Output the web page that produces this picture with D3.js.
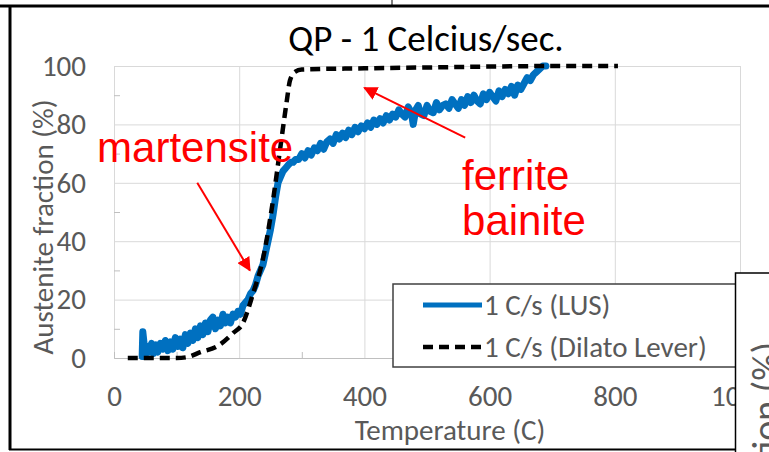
<!DOCTYPE html>
<html>
<head>
<meta charset="utf-8">
<script src="https://cdn.jsdelivr.net/npm/d3@7"></script>
<style>
  body { margin: 0; background: #fff; }
  svg { display: block; }
  text { font-family: Carlito, Lato, "Open Sans", sans-serif; }
</style>
</head>
<body>
<div class="chart"></div>
<script>
// chart values
var chartTitle = "QP - 1 Celcius/sec.";
var xTicks = [0, 200, 400, 600, 800, 1000];
var yTicks = [0, 20, 40, 60, 80, 100];
var xMinor = [100, 300, 500, 700, 900];
var yMinor = [10, 30, 50, 70, 90];
var seriesNames = ["1 C/s (LUS)", "1 C/s (Dilato Lever)"];

// LUS measurement (temperature C, austenite %)
var lusTemp = [45, 46, 48, 50, 53, 56, 60, 63, 67, 70, 74, 78, 82, 86, 90, 94, 98, 102, 106, 110,
  114, 118, 122, 126, 130, 134, 138, 142, 146, 150, 154, 158, 162, 166, 170, 174, 178, 182, 186, 190,
  194, 198, 202, 206, 210, 214, 218, 222, 226, 230, 234, 238, 242, 246, 250, 254, 258, 262, 266, 270,
  274, 278, 282, 286, 290, 295, 300, 305, 310, 315, 320, 325, 330, 335, 340, 345, 350, 355, 360, 365,
  370, 375, 380, 385, 390, 395, 400, 405, 410, 415, 420, 425, 430, 435, 440, 445, 450, 455, 460, 465,
  470, 475, 478, 482, 486, 490, 495, 500, 505, 510, 515, 520, 525, 530, 535, 540, 545, 550, 555, 560,
  565, 570, 575, 580, 585, 590, 595, 600, 605, 610, 615, 620, 625, 630, 635, 640, 645, 650, 655, 660,
  665, 670, 675, 680, 685, 690];
var lusValue = [0.5, 9, 5, 1, 4, 2, 5, 1.5, 4.5, 2, 5, 3, 6, 2.5, 5.5, 3, 7, 4, 6.5, 3.5,
  8, 5, 8.5, 6, 10, 7, 11, 8, 12, 9, 13, 14, 10, 13, 11, 15, 12, 14, 12, 15,
  14, 16, 15, 18, 19, 20, 22, 23, 25, 28, 30, 32, 36, 40, 44, 49, 55, 60, 62, 64,
  65, 66, 67, 67, 68, 68, 70, 68.5, 71, 69.5, 72, 71, 73.5, 71.5, 74, 75, 73.5, 76.5, 75, 77,
  75.5, 78, 76.5, 79, 77.5, 79.5, 78.5, 80.5, 79, 81.5, 80, 82, 80.5, 83, 81.5, 83.5, 82.5, 85, 83.5, 82.5,
  86, 84, 80, 85, 86.5, 83.5, 83, 86.5, 84.5, 84, 87.5, 85, 86.5, 87, 85.5, 88.5, 87, 85.5, 88.5, 86.5,
  89.5, 87.5, 90, 88, 87, 90.5, 88.5, 91, 89.5, 88, 91.5, 89.5, 92, 90.5, 93, 90, 93.5, 92, 94, 96,
  95, 97, 98, 99, 100, 100];

// dilatometer lever rule
var dilTemp = [22, 60, 100, 117, 138, 165, 190, 206, 222, 238, 254, 265, 276, 281, 289, 300, 400, 500, 600, 700, 805];
var dilValue = [0, 0, 0, 0.3, 2, 4, 8.5, 12, 22, 34, 54, 71, 88, 95, 98, 98.8, 99.2, 99.5, 99.8, 100, 100];

// annotations: label lines and arrows in data units
var noteLabels = ["martensite", "ferrite", "bainite"];
var noteX = [-27, 556, 556];
var noteY = [67, 57.5, 42];
var arrowFrom = [[133, 60], [561, 75.5]];
var arrowTo = [[217, 30], [400, 92.5]];

var svgWidth = 769;
var svgHeight = 452;
var margin = { top: 66, right: 29, bottom: 94, left: 114 };
var width = svgWidth - margin.left - margin.right;
var height = svgHeight - margin.top - margin.bottom;

var svg = d3.select(".chart")
    .append("svg")
    .attr("width", svgWidth)
    .attr("height", svgHeight);

var defs = svg.append("defs");
defs.append("marker")
    .attr("id", "head")
    .attr("viewBox", "0 0 10 10")
    .attr("refX", 9)
    .attr("refY", 5)
    .attr("markerWidth", 7)
    .attr("markerHeight", 7)
    .attr("markerUnits", "strokeWidth")
    .attr("orient", "auto")
    .append("path")
    .attr("d", "M0,0 L10,5 L0,10 z")
    .attr("fill", "#ff0000");

var chartGroup = svg.append("g")
    .attr("transform", `translate(${margin.left}, ${margin.top})`);

var x = d3.scaleLinear().domain([0, 1000]).range([0, width]);
var y = d3.scaleLinear().domain([0, 100]).range([height, 0]);

// gridlines
chartGroup.append("g")
    .call(d3.axisLeft(y).tickValues(yTicks).tickSize(-width).tickFormat(""))
    .call(g => g.select(".domain").remove())
    .selectAll("line").attr("stroke", "#d9d9d9");
chartGroup.append("g")
    .attr("transform", `translate(0, ${height})`)
    .call(d3.axisBottom(x).tickValues(xTicks).tickSize(-height).tickFormat(""))
    .call(g => g.select(".domain").remove())
    .selectAll("line").attr("stroke", "#d9d9d9");

// minor ticks
chartGroup.append("g")
    .call(d3.axisLeft(y).tickValues(yMinor).tickSize(-6).tickFormat(""))
    .call(g => g.select(".domain").attr("stroke", "#d9d9d9"))
    .selectAll("line").attr("stroke", "#bfbfbf");
chartGroup.append("g")
    .attr("transform", `translate(0, ${height})`)
    .call(d3.axisBottom(x).tickValues(xMinor).tickSize(-6).tickFormat(""))
    .call(g => g.select(".domain").attr("stroke", "#bfbfbf"))
    .selectAll("line").attr("stroke", "#bfbfbf");

// tick labels
var yAxis = chartGroup.append("g")
    .call(d3.axisLeft(y).tickValues(yTicks).tickSize(0).tickPadding(28).tickFormat(d3.format("d")));
yAxis.select(".domain").remove();
yAxis.selectAll("text")
    .attr("fill", "#595959")
    .style("font-size", "29px");

var xAxis = chartGroup.append("g")
    .attr("transform", `translate(0, ${height})`)
    .call(d3.axisBottom(x).tickValues(xTicks).tickSize(0).tickPadding(27).tickFormat(d3.format("d")));
xAxis.select(".domain").remove();
xAxis.selectAll("text")
    .attr("fill", "#595959")
    .style("font-size", "29px");

// series
var lusData = lusTemp.map((t, i) => ({ t: t, v: lusValue[i] }));
var dilData = dilTemp.map((t, i) => ({ t: t, v: dilValue[i] }));

var line = d3.line()
    .x(d => x(d.t))
    .y(d => y(d.v));

chartGroup.append("path")
    .datum(lusData)
    .attr("d", line)
    .attr("fill", "none")
    .attr("stroke", "#0070c0")
    .attr("stroke-width", 7)
    .attr("stroke-linejoin", "round")
    .attr("stroke-linecap", "round");

chartGroup.append("path")
    .datum(dilData)
    .attr("d", line.curve(d3.curveMonotoneX))
    .attr("fill", "none")
    .attr("stroke", "#000")
    .attr("stroke-width", 4.5)
    .attr("stroke-dasharray", "10,6")
    .attr("stroke-linecap", "butt");

// title and axis titles
svg.append("text")
    .attr("x", 426)
    .attr("y", 51)
    .attr("text-anchor", "middle")
    .style("font-size", "37px")
    .attr("fill", "#000")
    .text(chartTitle);

svg.append("text")
    .attr("transform", "translate(53, 227) rotate(-90)")
    .attr("text-anchor", "middle")
    .style("font-size", "29px")
    .attr("fill", "#595959")
    .text("Austenite fraction (%)");

svg.append("text")
    .attr("x", 450)
    .attr("y", 440)
    .attr("text-anchor", "middle")
    .style("font-size", "29px")
    .attr("fill", "#595959")
    .text("Temperature (C)");

// legend
var legend = svg.append("g");
legend.append("rect")
    .attr("x", 393).attr("y", 284)
    .attr("width", 370).attr("height", 83)
    .attr("fill", "#fff")
    .attr("stroke", "#404040")
    .attr("stroke-width", 1.5);
legend.append("line")
    .attr("x1", 423).attr("x2", 482).attr("y1", 305).attr("y2", 305)
    .attr("stroke", "#0070c0").attr("stroke-width", 5);
legend.append("line")
    .attr("x1", 423).attr("x2", 482).attr("y1", 347).attr("y2", 347)
    .attr("stroke", "#000").attr("stroke-width", 4.5)
    .attr("stroke-dasharray", "10,6");
legend.selectAll(".lt")
    .data(seriesNames)
    .enter()
    .append("text")
    .attr("x", 484)
    .attr("y", (d, i) => 315 + i * 42)
    .style("font-size", "29px")
    .attr("fill", "#595959")
    .text(d => d);

// annotations
chartGroup.selectAll(".note")
    .data(noteLabels)
    .enter()
    .append("text")
    .attr("x", (d, i) => x(noteX[i]))
    .attr("y", (d, i) => y(noteY[i]))
    .style("font-family", "'Liberation Sans', Arial, sans-serif")
    .style("font-size", "42px")
    .attr("fill", "#ff0000")
    .text(d => d);

chartGroup.selectAll(".arrow")
    .data(arrowFrom)
    .enter()
    .append("line")
    .attr("x1", d => x(d[0]))
    .attr("y1", d => y(d[1]))
    .attr("x2", (d, i) => x(arrowTo[i][0]))
    .attr("y2", (d, i) => y(arrowTo[i][1]))
    .attr("stroke", "#ff0000")
    .attr("stroke-width", 2)
    .attr("marker-end", "url(#head)");

// outer frame and neighbouring panel
svg.append("line")
    .attr("x1", 0).attr("x2", svgWidth).attr("y1", 6).attr("y2", 6)
    .attr("stroke", "#000").attr("stroke-width", 3);
svg.append("line")
    .attr("x1", 10).attr("x2", 10).attr("y1", 6).attr("y2", 450)
    .attr("stroke", "#000").attr("stroke-width", 3);
svg.append("line")
    .attr("x1", 9).attr("x2", 736).attr("y1", 449.5).attr("y2", 449.5)
    .attr("stroke", "#000").attr("stroke-width", 2);
svg.append("line")
    .attr("x1", 392).attr("x2", 392).attr("y1", 0).attr("y2", 6)
    .attr("stroke", "#000").attr("stroke-width", 1);

var side = svg.append("g");
side.append("rect")
    .attr("x", 735.5).attr("y", 273)
    .attr("width", 40).attr("height", 185)
    .attr("fill", "#fff")
    .attr("stroke", "#000")
    .attr("stroke-width", 1.5);
side.append("text")
    .attr("transform", "translate(779, 342) rotate(-90)")
    .attr("text-anchor", "end")
    .style("font-size", "38px")
    .attr("fill", "#595959")
    .text("Austenite fraction (%)");
</script>
</body>
</html>
